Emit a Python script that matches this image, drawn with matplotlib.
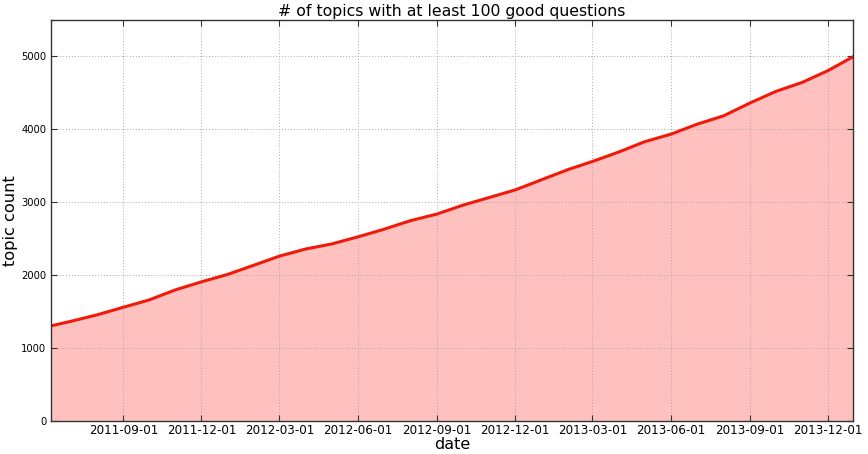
import matplotlib
matplotlib.use("Agg")
import matplotlib.pyplot as plt
import matplotlib.dates as mdates
import numpy as np
import pandas as pd

dates = ["2011-06-08", "2011-07-01", "2011-08-01", "2011-09-01", "2011-10-01", "2011-11-01",
         "2011-12-01", "2012-01-01", "2012-02-01", "2012-03-01", "2012-04-01", "2012-05-01",
         "2012-06-01", "2012-07-01", "2012-08-01", "2012-09-01", "2012-10-01", "2012-11-01",
         "2012-12-01", "2013-01-01", "2013-02-01", "2013-03-01", "2013-04-01", "2013-05-01",
         "2013-06-01", "2013-07-01", "2013-08-01", "2013-09-01", "2013-10-01", "2013-11-01",
         "2013-12-01", "2013-12-30"]
counts = [1303, 1365, 1455, 1560, 1660, 1800,
          1908, 2012, 2140, 2261, 2360, 2428,
          2527, 2630, 2748, 2839, 2960, 3066,
          3169, 3310, 3450, 3559, 3690, 3830,
          3935, 4070, 4185, 4362, 4520, 4645,
          4806, 4995]
tick_dates = ["2011-09-01", "2011-12-01", "2012-03-01", "2012-06-01", "2012-09-01",
              "2012-12-01", "2013-03-01", "2013-06-01", "2013-09-01", "2013-12-01"]
y_ticks = [0, 1000, 2000, 3000, 4000, 5000]

x = pd.to_datetime(dates)
y = np.array(counts)

fig = plt.figure(figsize=(8.68, 4.54), dpi=100, facecolor="white")
ax = fig.add_axes([0.0582, 0.0727, 0.9245, 0.8833])
ax.fill_between(x, 0, y, color="#ffc0c0", linewidth=0)
ax.plot(x, y, color="#f01a0a", linewidth=2.2)

ax.set_xlim(pd.Timestamp("2011-06-08"), pd.Timestamp("2013-12-30"))
ax.set_ylim(0, 5500)
ax.set_xticks(pd.to_datetime(tick_dates))
ax.xaxis.set_major_formatter(mdates.DateFormatter("%Y-%m-%d"))
ax.set_yticks(y_ticks)
ax.grid(True, color="#a8a8a8", linestyle=(0, (1, 2)), linewidth=0.7)
ax.tick_params(direction="in", top=True, right=True, length=4, color="#333333")
ax.tick_params(axis="x", labelsize=8.6, pad=2)
ax.tick_params(axis="y", labelsize=7.2, pad=3)
for s in ax.spines.values():
    s.set_color("#333333")
    s.set_linewidth(1.0)

ax.set_title("# of topics with at least 100 good questions", fontsize=11.3, pad=3)
ax.set_xlabel("date", fontsize=11.5)
ax.set_ylabel("topic count", fontsize=11.7)
ax.xaxis.set_label_coords(0.5, -0.04)
ax.yaxis.set_label_coords(-0.040, 0.5)

fig.savefig("out.png", dpi=100, facecolor="white")
